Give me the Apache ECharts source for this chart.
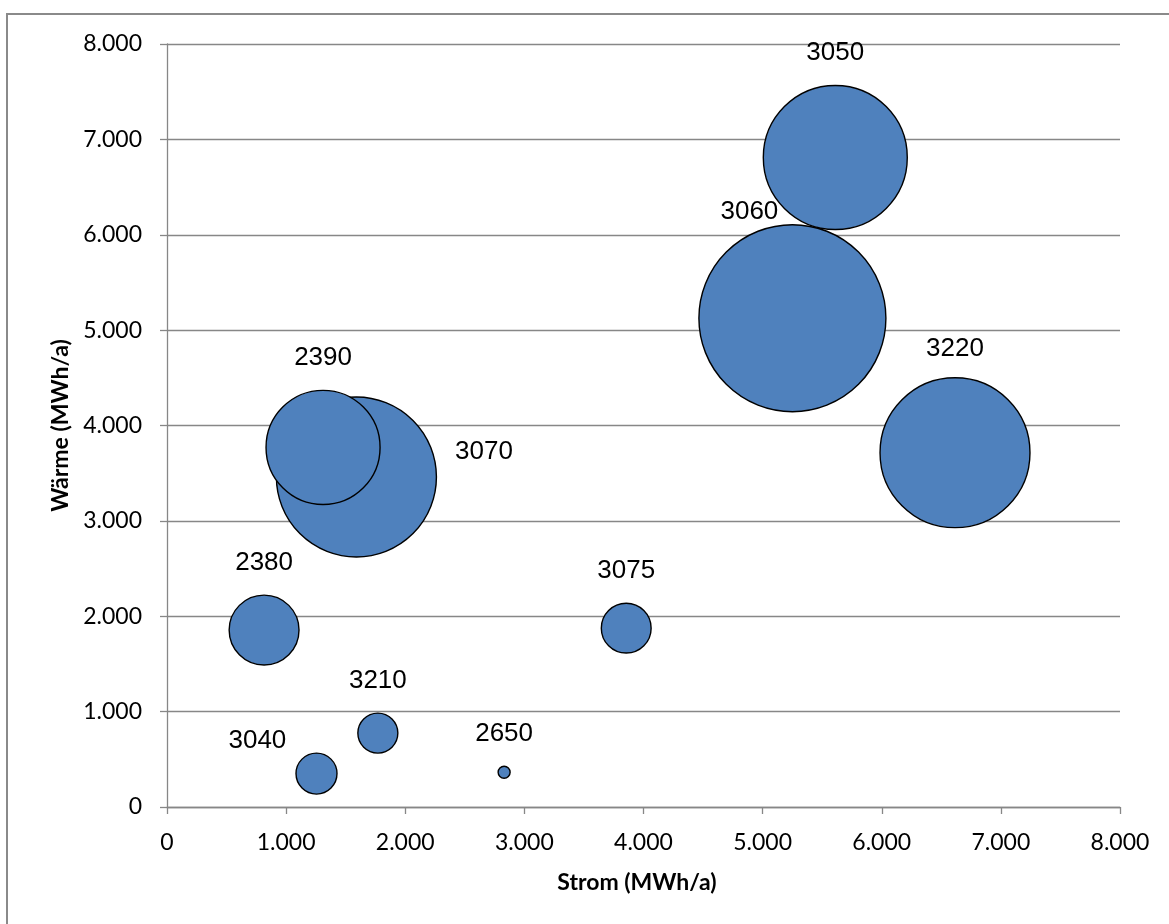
<!DOCTYPE html>
<html>
<head>
<meta charset="utf-8">
<script src="https://cdn.jsdelivr.net/npm/echarts@6/dist/echarts.min.js"></script>
<style>
  html, body { margin: 0; padding: 0; background: #fff; }
  #chart { width: 1169px; height: 924px; }
</style>
</head>
<body>
<div id="chart"></div>
<script>
// Postleitzahlen (Gemeinden) and their energy demand
const plz    = ['3060', '3070', '3220', '3050', '2390', '2380', '3075', '3210', '3040', '2650'];
const strom  = [5250, 1590, 6615, 5610, 1310, 815, 3855, 1770, 1255, 2830];   // MWh/a
const waerme = [5125, 3460, 3715, 6810, 3770, 1855, 1875, 775, 350, 365];     // MWh/a
const groesse = [8740, 6400, 5620, 5180, 3250, 1220, 620, 400, 420, 36];       // bubble size

const axisTicks = [0, 1000, 2000, 3000, 4000, 5000, 6000, 7000, 8000];

// German thousands separator
function fmt(v) {
  return String(v).replace(/\B(?=(\d{3})+(?!\d))/g, '.');
}

const maxSize = Math.max.apply(null, groesse);
const maxDiameter = 187;

// label placement for bubbles that do not take the default "above" position
const labelPlacement = {
  '3060': { position: 'inside', offset: [-43, -106] },
  '3070': { position: 'right', distance: 18, offset: [0, -25] },
  '3040': { position: 'left', distance: 9, offset: [0, -33] },
  '3220': { position: 'top', distance: 15 }
};

const data = plz.map(function (name, i) {
  const item = { name: name, value: [strom[i], waerme[i], groesse[i]] };
  if (labelPlacement[name]) item.label = labelPlacement[name];
  return item;
});

const gray = '#878787';

const chart = echarts.init(document.getElementById('chart'), null, { renderer: 'canvas' });
chart.setOption({
  animation: false,
  backgroundColor: '#ffffff',
  grid: { left: 167, right: 49, top: 44, bottom: 117, containLabel: false },
  graphic: [{
    type: 'rect',
    shape: { x: 7, y: 14, width: 1200, height: 1000 },
    style: { fill: 'none', stroke: '#8a8a8a', lineWidth: 2 },
    silent: true,
    z: -1
  }],
  xAxis: {
    type: 'value',
    min: axisTicks[0],
    max: axisTicks[axisTicks.length - 1],
    interval: axisTicks[1] - axisTicks[0],
    name: 'Strom (MWh/a)',
    nameLocation: 'middle',
    nameGap: 64,
    nameTextStyle: { fontFamily: 'Lato', fontWeight: 'bold', fontSize: 23, color: '#000', padding: [0, 13, 0, 0] },
    axisLine: { show: true, lineStyle: { color: gray, width: 1.3 } },
    axisTick: { show: true, length: 7, inside: false, lineStyle: { color: gray, width: 1.3 } },
    axisLabel: { fontFamily: 'Lato', fontSize: 23, color: '#000', margin: 24, formatter: fmt },
    splitLine: { show: false }
  },
  yAxis: {
    type: 'value',
    min: axisTicks[0],
    max: axisTicks[axisTicks.length - 1],
    interval: axisTicks[1] - axisTicks[0],
    name: 'Wärme (MWh/a)',
    nameLocation: 'middle',
    nameGap: 95,
    nameRotate: 90,
    nameTextStyle: { fontFamily: 'Lato', fontWeight: 'bold', fontSize: 23, color: '#000' },
    axisLine: { show: true, lineStyle: { color: gray, width: 1.3 } },
    axisTick: { show: true, length: 7, inside: false, lineStyle: { color: gray, width: 1.3 } },
    axisLabel: { fontFamily: 'Lato', fontSize: 23, color: '#000', margin: 25, formatter: fmt },
    splitLine: { show: true, lineStyle: { color: gray, width: 1.3 } }
  },
  series: [{
    type: 'scatter',
    data: data,
    symbol: 'circle',
    symbolSize: function (val) {
      return maxDiameter * Math.sqrt(val[2] / maxSize);
    },
    itemStyle: { color: '#4f81bd', borderColor: '#000', borderWidth: 1.4, opacity: 1 },
    label: {
      show: true,
      position: 'top',
      distance: 19,
      formatter: '{b}',
      fontFamily: 'Liberation Sans',
      fontSize: 26,
      color: '#000'
    },
    emphasis: { disabled: true }
  }]
});
</script>
</body>
</html>
